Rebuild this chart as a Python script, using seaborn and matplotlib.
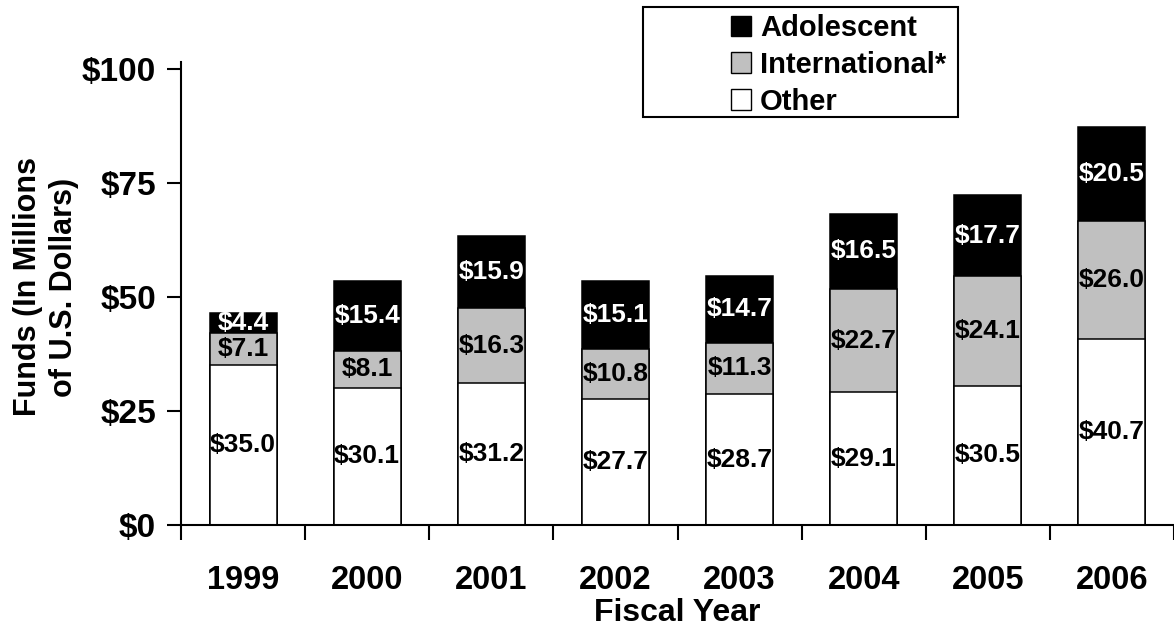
import numpy as np
import pandas as pd
import matplotlib
matplotlib.use('Agg')
import matplotlib.pyplot as plt
import seaborn as sns
from matplotlib.patches import Patch, Rectangle
from matplotlib.ticker import FixedLocator

# values (millions of US dollars)
years = ['1999', '2000', '2001', '2002', '2003', '2004', '2005', '2006']
other = [35.0, 30.1, 31.2, 27.7, 28.7, 29.1, 30.5, 40.7]
international = [7.1, 8.1, 16.3, 10.8, 11.3, 22.7, 24.1, 26.0]
adolescent = [4.4, 15.4, 15.9, 15.1, 14.7, 16.5, 17.7, 20.5]

df = pd.DataFrame({'Year': years, 'Other': other,
                   'International': international, 'Adolescent': adolescent})
df['Mid'] = df['Other'] + df['International']
df['Total'] = df['Mid'] + df['Adolescent']

sns.set_style('white')
plt.rcParams['font.family'] = ['Liberation Sans', 'DejaVu Sans']
plt.rcParams['font.weight'] = 'bold'
plt.rcParams['text.color'] = 'black'
plt.rcParams['axes.labelcolor'] = 'black'
plt.rcParams['xtick.color'] = 'black'
plt.rcParams['ytick.color'] = 'black'

fig = plt.figure(figsize=(11.74, 6.32), dpi=100)
ax = fig.add_axes([181 / 1174, 1 - 525 / 632, 1 - 181 / 1174, (525 - 69) / 632])

gray = '#C0C0C0'
bar_w = 0.54
# draw cumulative layers, tallest first so lower layers sit on top
for col, colour in [('Total', 'black'), ('Mid', gray), ('Other', 'white')]:
    sns.barplot(data=df, x='Year', y=col, order=years, color=colour,
                saturation=1, width=bar_w, edgecolor='black', linewidth=1.1,
                ax=ax)

# segment labels
for i in range(len(years)):
    o, it, a = df.loc[i, ['Other', 'International', 'Adolescent']]
    ax.text(i, o / 2, f'${o:.1f}', ha='center', va='center',
            fontsize=19, fontweight='bold', color='black')
    ax.text(i, o + it / 2, f'${it:.1f}', ha='center', va='center',
            fontsize=19, fontweight='bold', color='black')
    ax.text(i, o + it + a / 2, f'${a:.1f}', ha='center', va='center',
            fontsize=19, fontweight='bold', color='white')

ax.set_xlim(-0.5, len(years) - 0.5)
ax.set_ylim(0, 100)
ax.set_yticks([0, 25, 50, 75, 100])
ax.set_yticklabels(['$0', '$25', '$50', '$75', '$100'])
ax.tick_params(axis='y', direction='out', length=10, width=1.5, pad=8,
               labelsize=24, left=True)
ax.tick_params(axis='x', which='major', length=0, pad=29, labelsize=23.5)
ax.xaxis.set_minor_locator(FixedLocator(np.arange(-0.5, len(years), 1.0)))
ax.tick_params(axis='x', which='minor', direction='out', length=11,
               width=1.5, bottom=True)
for lab in ax.get_xticklabels() + ax.get_yticklabels():
    lab.set_fontweight('bold')

for side in ['top', 'right']:
    ax.spines[side].set_visible(False)
for side in ['left', 'bottom']:
    ax.spines[side].set_color('black')
    ax.spines[side].set_linewidth(1.5)
ax.spines['left'].set_bounds(0, 101.5)

ax.set_xlabel('Fiscal Year', fontsize=23, fontweight='bold', labelpad=1)
ax.set_ylabel('Funds (In Millions\nof U.S. Dollars)', fontsize=22,
              fontweight='bold', linespacing=1.3)
ax.yaxis.label.set_va('center')
ax.yaxis.set_label_coords((46 - 181) / 993, (525 - 287) / 456)
ax.grid(False)

# legend with its frame drawn separately (wide left margin)
fig.patches.append(Rectangle((643 / 1174, 1 - 117 / 632), (958 - 643) / 1174,
                             110 / 632, transform=fig.transFigure,
                             facecolor='white', edgecolor='black',
                             linewidth=1.5, zorder=5))
handles = [Patch(facecolor='black', edgecolor='black', label='Adolescent'),
           Patch(facecolor=gray, edgecolor='black', label='International*'),
           Patch(facecolor='white', edgecolor='black', label='Other')]
leg = fig.legend(handles=handles, loc='upper left',
                 bbox_to_anchor=(731 / 1174, 1 - 14 / 632), frameon=False,
                 prop={'size': 21, 'weight': 'bold'}, handlelength=0.7,
                 handleheight=0.7, handletextpad=0.3, labelspacing=0.3,
                 borderpad=0, borderaxespad=0)
leg.set_zorder(6)

fig.savefig('out.png', dpi=100, facecolor='white')
